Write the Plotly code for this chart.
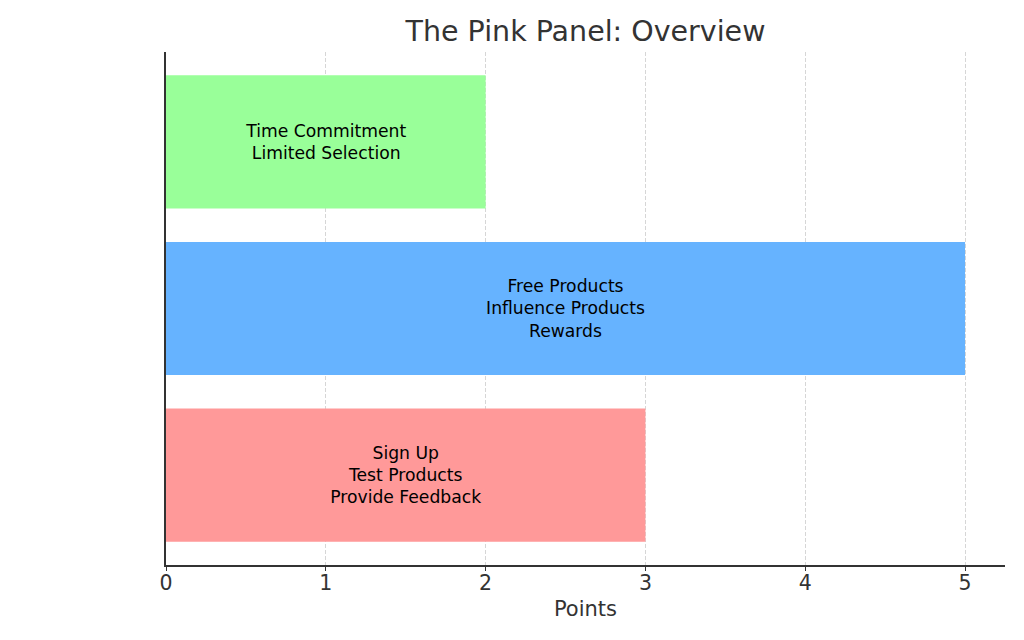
import plotly.graph_objects as go

categories = ["Process", "Benefits", "Drawbacks"]
points = [3, 5, 2]
labels = ["Sign Up<br>Test Products<br>Provide Feedback",
          "Free Products<br>Influence Products<br>Rewards",
          "Time Commitment<br>Limited Selection"]
colors = ["#ff9999", "#66b3ff", "#99ff99"]
x_ticks = [0, 1, 2, 3, 4, 5]

fig = go.Figure(go.Bar(
    y=list(range(len(categories))), x=points, orientation="h",
    marker=dict(color=colors, line=dict(width=0)),
    width=0.8,
    text=labels, textposition="inside", insidetextanchor="middle",
    textangle=0, constraintext="none",
    textfont=dict(family="DejaVu Sans", size=17.2, color="black"),
    hovertext=categories,
))

fig.update_layout(
    width=1024, height=640,
    margin=dict(l=158, r=27, t=44, b=83),
    paper_bgcolor="white", plot_bgcolor="white",
    font=dict(family="DejaVu Sans", color="#333333"),
    title=dict(text="The Pink Panel: Overview", x=0.5, xref="paper", xanchor="center",
               y=1 - 23 / 640, yanchor="middle",
               font=dict(size=28.5, color="#333333")),
    showlegend=False,
    xaxis=dict(range=[0, 5.25], tickvals=x_ticks, ticks="outside", ticklen=4,
               tickcolor="#333333", tickfont=dict(size=20.5, color="#333333"),
               ticklabelstandoff=-5,
               showline=True, linecolor="#333333", linewidth=1.5,
               showgrid=True, gridcolor="#d6d6d6", griddash="4px,2px", gridwidth=1,
               zeroline=False, layer="above traces",
               title=dict(text="Points", font=dict(size=21, color="#333333"), standoff=7)),
    yaxis=dict(range=[-0.54, 2.54], showticklabels=False, ticks="",
               showline=True, linecolor="#333333", linewidth=1.5,
               showgrid=False, zeroline=False),
)

fig.write_html("out.html")
